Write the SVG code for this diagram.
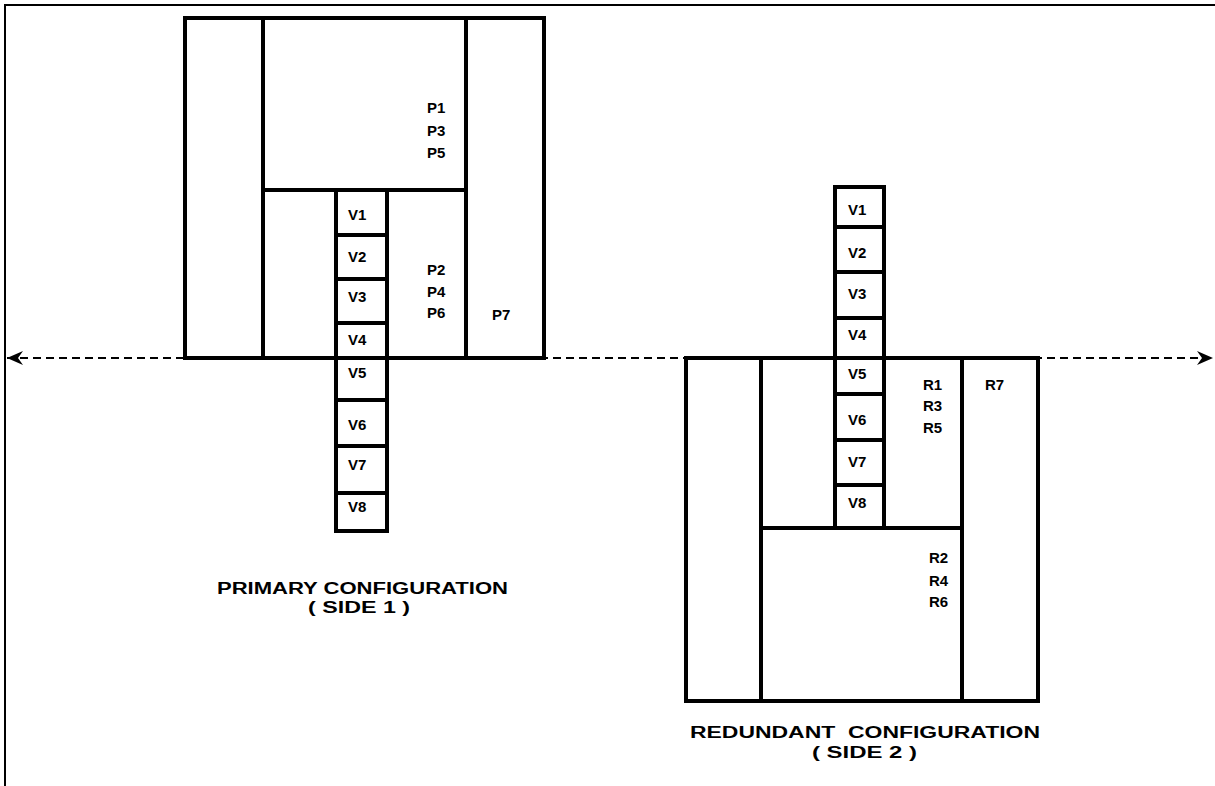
<svg xmlns="http://www.w3.org/2000/svg" width="1215" height="786" viewBox="0 0 1215 786">
<style>
.frame{fill:none;stroke:#000;stroke-width:2}
.box{fill:#fff;stroke:#000;stroke-width:4}
.ln{fill:none;stroke:#000;stroke-width:4}
.dash{fill:none;stroke:#000;stroke-width:2;stroke-dasharray:8 5}
.lbl{font-family:"Liberation Sans",Arial,sans-serif;font-weight:bold;font-size:15px;fill:#000}
.cap{font-family:"Liberation Sans",Arial,sans-serif;font-weight:bold;font-size:16px;fill:#000;white-space:pre}
</style>
<defs>
<marker id="ah" viewBox="0 0 16 16" refX="16" refY="8" markerWidth="16" markerHeight="16" markerUnits="userSpaceOnUse" orient="auto-start-reverse">
<path d="M16,8 L0,1 L5,8 L0,15 Z" fill="#000"/>
</marker>
</defs>
<rect width="1215" height="786" fill="#fff"/>
<g id="frame">
<polyline class="frame" points="5,786 5,5 1215,5"/>
</g>
<g id="connectors">
<line class="dash" x1="7" y1="358" x2="1213" y2="358" marker-start="url(#ah)" marker-end="url(#ah)"/>
</g>
<g id="primary">
<rect class="box" x="185" y="18" width="359" height="340"/>
<line class="ln" x1="263" y1="18" x2="263" y2="358"/>
<line class="ln" x1="466" y1="18" x2="466" y2="358"/>
<line class="ln" x1="263" y1="190" x2="466" y2="190"/>
<rect class="box" x="336" y="190" width="51" height="341"/>
<line class="ln" x1="336" y1="235" x2="387" y2="235"/>
<line class="ln" x1="336" y1="279" x2="387" y2="279"/>
<line class="ln" x1="336" y1="323" x2="387" y2="323"/>
<line class="ln" x1="336" y1="358" x2="387" y2="358"/>
<line class="ln" x1="336" y1="400" x2="387" y2="400"/>
<line class="ln" x1="336" y1="446" x2="387" y2="446"/>
<line class="ln" x1="336" y1="493" x2="387" y2="493"/>
<text class="lbl" x="348" y="220">V1</text>
<text class="lbl" x="348" y="262">V2</text>
<text class="lbl" x="348" y="302">V3</text>
<text class="lbl" x="348" y="345">V4</text>
<text class="lbl" x="348" y="378">V5</text>
<text class="lbl" x="348" y="430">V6</text>
<text class="lbl" x="348" y="470">V7</text>
<text class="lbl" x="348" y="512">V8</text>
<text class="lbl" x="427" y="113">P1</text>
<text class="lbl" x="427" y="136">P3</text>
<text class="lbl" x="427" y="158">P5</text>
<text class="lbl" x="427" y="275">P2</text>
<text class="lbl" x="427" y="297">P4</text>
<text class="lbl" x="427" y="318">P6</text>
<text class="lbl" x="492" y="320">P7</text>
<text class="cap" x="217" y="594" textLength="291" lengthAdjust="spacingAndGlyphs">PRIMARY CONFIGURATION</text>
<text class="cap" x="308" y="613" textLength="102" lengthAdjust="spacingAndGlyphs">( SIDE 1 )</text>
</g>
<g id="redundant">
<rect class="box" x="686" y="358" width="352" height="343"/>
<line class="ln" x1="761" y1="358" x2="761" y2="701"/>
<line class="ln" x1="962" y1="358" x2="962" y2="701"/>
<line class="ln" x1="761" y1="528" x2="962" y2="528"/>
<rect class="box" x="835" y="187" width="49" height="341"/>
<line class="ln" x1="835" y1="227" x2="884" y2="227"/>
<line class="ln" x1="835" y1="272" x2="884" y2="272"/>
<line class="ln" x1="835" y1="318" x2="884" y2="318"/>
<line class="ln" x1="835" y1="358" x2="884" y2="358"/>
<line class="ln" x1="835" y1="394" x2="884" y2="394"/>
<line class="ln" x1="835" y1="440" x2="884" y2="440"/>
<line class="ln" x1="835" y1="485" x2="884" y2="485"/>
<text class="lbl" x="848" y="215">V1</text>
<text class="lbl" x="848" y="258">V2</text>
<text class="lbl" x="848" y="299">V3</text>
<text class="lbl" x="848" y="340">V4</text>
<text class="lbl" x="848" y="379">V5</text>
<text class="lbl" x="848" y="425">V6</text>
<text class="lbl" x="848" y="467">V7</text>
<text class="lbl" x="848" y="508">V8</text>
<text class="lbl" x="923" y="390">R1</text>
<text class="lbl" x="923" y="411">R3</text>
<text class="lbl" x="923" y="433">R5</text>
<text class="lbl" x="985" y="390">R7</text>
<text class="lbl" x="929" y="563">R2</text>
<text class="lbl" x="929" y="586">R4</text>
<text class="lbl" x="929" y="607">R6</text>
<text class="cap" x="690" y="738" textLength="350" lengthAdjust="spacingAndGlyphs">REDUNDANT  CONFIGURATION</text>
<text class="cap" x="812" y="758" textLength="105" lengthAdjust="spacingAndGlyphs">( SIDE 2 )</text>
</g>
</svg>
